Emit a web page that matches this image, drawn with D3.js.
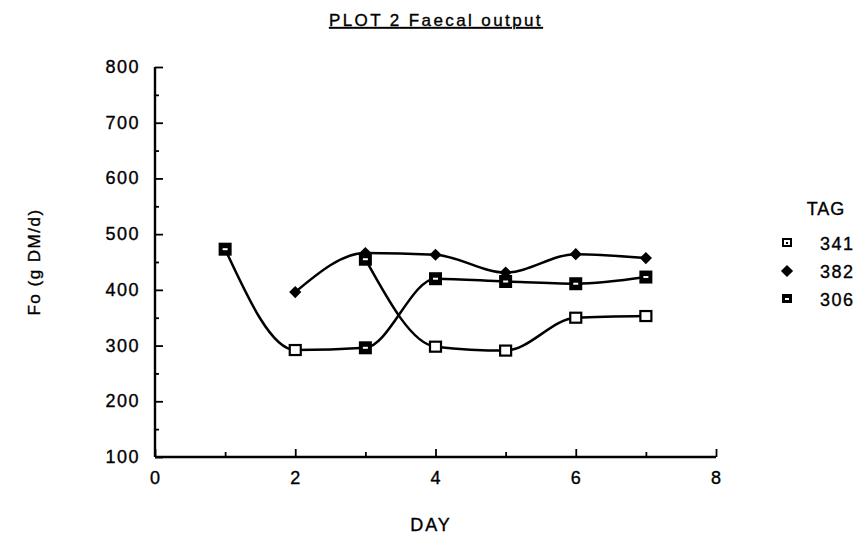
<!DOCTYPE html>
<html>
<head>
<meta charset="utf-8">
<script src="https://cdn.jsdelivr.net/npm/d3@7"></script>
<style>
  body { margin: 0; background: #fff; }
  text { font-family: 'Liberation Sans', Arial, sans-serif; fill: #000; stroke: #000; stroke-width: 0.35px; }
</style>
</head>
<body>
<svg id="chart" width="864" height="543"></svg>
<script>
// data
var days = [1, 2, 3, 4, 5, 6, 7]

// the two crossing curves as they were drawn, with the marker used at each point
var curveA = [473, 292, 296, 420, 415, 411, 423]
var curveAMarks = ['306', '341', '306', '306', '306', '306', '306']
var curveB = [null, null, 455, 298, 291, 350, 353]
var curveBMarks = [null, null, '306', '341', '341', '341', '341']
var tag382 = [null, 396, 466, 463, 431, 464, 457]

var xTicks = [0, 2, 4, 6, 8]
var yTicks = [100, 200, 300, 400, 500, 600, 700, 800]
var legendTags = ['341', '382', '306']

var svg = d3.select('#chart')

var x = d3.scaleLinear().domain([0, 8]).range([155, 716])
var y = d3.scaleLinear().domain([100, 800]).range([457, 67])

// title
svg.append('text')
  .attr('x', 436).attr('y', 26)
  .attr('text-anchor', 'middle')
  .style('font-size', '17px')
  .style('letter-spacing', '2.4px')
  .style('text-decoration', 'underline')
  .text('PLOT 2 Faecal output')

// axes, ticks point inward
var yAxis = d3.axisRight(y)
  .tickValues(d3.range(100, 801, 50))
  .tickSize(0)
  .tickFormat('')
var gy = svg.append('g').attr('transform', 'translate(' + x(0) + ',0)').call(yAxis)
gy.select('.domain').remove()
gy.selectAll('.tick line')
  .attr('x2', function(d) { return d % 100 === 0 ? 8 : 4 })
  .attr('stroke', '#000').attr('stroke-width', 1.8)

var xAxis = d3.axisTop(x)
  .tickValues(d3.range(0, 9, 1))
  .tickSize(0)
  .tickFormat('')
var gx = svg.append('g').attr('transform', 'translate(0,' + y(100) + ')').call(xAxis)
gx.select('.domain').remove()
gx.selectAll('.tick line')
  .attr('y2', function(d) { return d % 2 === 0 ? -8 : -5 })
  .attr('stroke', '#000').attr('stroke-width', 1.8)

svg.append('line')
  .attr('x1', x(0)).attr('x2', x(0)).attr('y1', y(800)).attr('y2', y(100))
  .attr('stroke', '#000').attr('stroke-width', 2.4)
svg.append('line')
  .attr('x1', x(0)).attr('x2', x(8)).attr('y1', y(100)).attr('y2', y(100))
  .attr('stroke', '#000').attr('stroke-width', 2.4)

// tick labels
svg.selectAll('.ylab')
  .data(yTicks)
  .enter().append('text')
  .attr('x', x(0) - 15)
  .attr('y', function(d) { return y(d) + 6 })
  .attr('text-anchor', 'end')
  .style('font-size', '18px')
  .style('letter-spacing', '1.5px')
  .text(function(d) { return d })

svg.selectAll('.xlab')
  .data(xTicks)
  .enter().append('text')
  .attr('x', function(d) { return x(d) })
  .attr('y', y(100) + 27)
  .attr('text-anchor', 'middle')
  .style('font-size', '18px')
  .text(function(d) { return d })

svg.append('text')
  .attr('x', 431).attr('y', 531)
  .attr('text-anchor', 'middle')
  .style('font-size', '18px')
  .style('letter-spacing', '2px')
  .text('DAY')

svg.append('text')
  .attr('transform', 'translate(40,262) rotate(-90)')
  .attr('text-anchor', 'middle')
  .style('font-size', '17px')
  .style('letter-spacing', '1.5px')
  .text('Fo (g DM/d)')

// curves
var line = d3.line()
  .defined(function(d) { return d != null })
  .x(function(d, i) { return x(days[i]) })
  .y(function(d) { return y(d) })
  .curve(d3.curveMonotoneX)

;[curveA, curveB, tag382].forEach(function(s) {
  svg.append('path')
    .attr('d', line(s))
    .attr('fill', 'none')
    .attr('stroke', '#000')
    .attr('stroke-width', 2.5)
})

function drawMark(g, tag, cx, cy) {
  if (tag === '341') {
    g.append('rect')
      .attr('x', cx - 5.5).attr('y', cy - 5).attr('width', 11).attr('height', 10)
      .attr('fill', '#fff').attr('stroke', '#000').attr('stroke-width', 2.2)
  } else if (tag === '306') {
    g.append('rect')
      .attr('x', cx - 6.5).attr('y', cy - 6.5).attr('width', 13).attr('height', 13)
      .attr('fill', '#000')
    g.append('rect')
      .attr('x', cx - 2.5).attr('y', cy - 1).attr('width', 5).attr('height', 2)
      .attr('fill', '#fff')
  } else {
    g.append('path')
      .attr('d', d3.symbol().type(d3.symbolDiamond2).size(95)())
      .attr('transform', 'translate(' + cx + ',' + cy + ')')
      .attr('fill', '#000')
  }
}

var marks = svg.append('g')
tag382.forEach(function(v, i) {
  if (v != null) drawMark(marks, '382', x(days[i]), y(v))
})
curveA.forEach(function(v, i) {
  drawMark(marks, curveAMarks[i], x(days[i]), y(v))
})
curveB.forEach(function(v, i) {
  if (v != null) drawMark(marks, curveBMarks[i], x(days[i]), y(v))
})

// legend
var legend = svg.append('g')
legend.append('text')
  .attr('x', 826).attr('y', 215)
  .attr('text-anchor', 'middle')
  .style('font-size', '18px')
  .style('letter-spacing', '1px')
  .text('TAG')

legendTags.forEach(function(t, i) {
  var ly = 243 + i * 28
  if (t === '341') {
    legend.append('rect')
      .attr('x', 783).attr('y', ly - 4).attr('width', 8).attr('height', 7)
      .attr('fill', '#fff').attr('stroke', '#000').attr('stroke-width', 2)
    legend.append('rect')
      .attr('x', 786).attr('y', ly - 1).attr('width', 2).attr('height', 2).attr('fill', '#000')
  } else if (t === '306') {
    legend.append('rect')
      .attr('x', 782).attr('y', ly - 5).attr('width', 10).attr('height', 9).attr('fill', '#000')
    legend.append('rect')
      .attr('x', 785).attr('y', ly - 1).attr('width', 4).attr('height', 2).attr('fill', '#fff')
  } else {
    drawMark(legend, t, 787, ly)
  }
  legend.append('text')
    .attr('x', 820).attr('y', ly + 7)
    .style('font-size', '18px')
    .style('letter-spacing', '1.5px')
    .text(t)
})
</script>
</body>
</html>
